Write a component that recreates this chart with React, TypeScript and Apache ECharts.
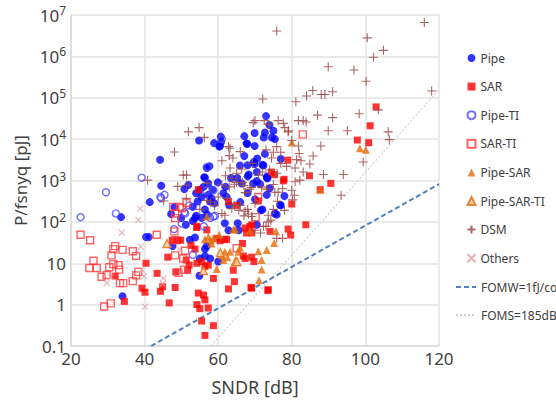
import React, { useEffect, useRef } from "react";
import * as echarts from "echarts";

// ---- data: [SNDR dB, P/fsnyq pJ] ----
const pipeData: [number, number][] = [
  [44.2, 3160], [54.8, 9300], [58.9, 8000], [60.7, 11500], [60.5, 6800], [67.1, 11800], [69.9, 14000], [67.9, 7600], [69.9, 6800], [67.1, 3900],
  [70.6, 3400], [65.9, 2300], [56.9, 2000], [57.6, 2200], [56.2, 1200], [69.9, 2500], [68.3, 1400], [70.5, 1600], [63.5, 1150], [65.2, 1150],
  [73, 36000], [73.9, 22000], [75, 16000], [72.7, 14500], [72.4, 11000], [74.6, 11000], [72.7, 4400], [77, 3300], [72, 2400], [73.2, 1240],
  [75.4, 10000], [60.8, 8700], [60.3, 6600], [67.7, 7900], [69.7, 2800], [72.3, 2300], [68, 2340], [73.4, 1170], [56.4, 1170], [68, 1260],
  [70.5, 970], [69.5, 850], [71.4, 810], [66.4, 850], [59.9, 900], [57.3, 850], [61.4, 490], [62.3, 400], [57.3, 450], [58.2, 370],
  [57.8, 310], [71.6, 190], [77, 250], [75.4, 160], [56.4, 200], [57, 150], [55.5, 125], [44.5, 750], [41.4, 300], [33.6, 130],
  [48.1, 230], [50.8, 620], [51.9, 780], [54, 490], [54.4, 310], [53.1, 230], [54, 140], [51.2, 85], [49.9, 123], [47.2, 155],
  [40.4, 43], [41.1, 43], [52.3, 37], [34, 1.6], [47.6, 26], [54.9, 5], [56.4, 22], [57.8, 13], [53.7, 123], [53.1, 105],
  [61.8, 93], [62.8, 63], [65.3, 93], [65.6, 63], [70.5, 85], [56.9, 26], [56.4, 15], [55, 13], [60, 11], [53.7, 42],
  [75.9, 150], [76.8, 260], [72, 200], [73.2, 450], [73.3, 1130], [55, 600], [56, 700], [55.5, 400], [58.5, 600], [59, 280],
  [62, 700], [63, 250], [66, 300], [68, 500], [70, 350], [74, 650], [78, 420],
];

const sarData: [number, number][] = [
  [102.9, 60000], [101.3, 21000], [97.8, 9500], [100.9, 8200], [78.9, 3100], [84.8, 1300], [74.5, 1600], [75.3, 1380], [77.9, 1070], [90.6, 850],
  [87.7, 600], [80, 270], [77.7, 980], [70.9, 320], [83.8, 85], [79, 67], [79.7, 48], [74.1, 59], [69.1, 85], [67.3, 71],
  [67.7, 54], [69.1, 54], [68.6, 77], [66.6, 30], [66.8, 15], [69.1, 14], [69.7, 11], [69.1, 2.5], [73.6, 2.3], [54.2, 73],
  [56.9, 64], [59.6, 40], [61.8, 37], [53.7, 22], [55.5, 11], [54.2, 10], [57.3, 9], [58.7, 4.3], [64.1, 6.8], [64.4, 3.6],
  [62.8, 2.4], [68.9, 2.6], [73.5, 2.2], [54.6, 1.9], [56, 1.7], [56.4, 1.3], [54.2, 1], [55, 0.8], [57.3, 0.83], [55.5, 0.4],
  [58.7, 0.31], [56.4, 0.18], [40.4, 10], [46.3, 14], [43.4, 5.7], [32, 4.9], [39.3, 2.5], [40.1, 2], [34.5, 1.2], [44.9, 2.7],
  [44.3, 2.1], [48.3, 2.6], [46.7, 1.1], [48.5, 6.2], [51.7, 6.8], [51.3, 12], [52.1, 9], [52.6, 27], [49, 36], [47.5, 36],
  [49.8, 36], [54.2, 78], [56.4, 8.4], [60.5, 35], [65, 250], [62.3, 38], [67.3, 13], [62.8, 310], [54.6, 600],
];

const pipeTiData: [number, number][] = [
  [22.6, 130], [29.5, 520], [32.2, 160], [39.2, 1170], [44.5, 370], [45.4, 450], [44.3, 400], [41, 43], [48, 67], [51, 160],
  [50.1, 91], [53.1, 16], [56.7, 580], [58.7, 580], [56.1, 78], [52.1, 250], [50.8, 170], [61, 10000], [56.9, 2100], [59.1, 140],
  [57.8, 125], [58.7, 134],
];

const sarTiData: [number, number][] = [
  [22.6, 49], [25.2, 36], [26.1, 11.5], [25, 7.7], [27, 7.7], [28.3, 4.7], [29.7, 5.2], [31, 15.5], [31.5, 9.5], [32.9, 9],
  [33.1, 7], [30.4, 8], [33.3, 3.3], [34.2, 3.3], [31.5, 22], [34, 21], [36.8, 19.5], [37.7, 15], [38.3, 6.2], [37.7, 5.1],
  [36.8, 3.7], [43.3, 49], [29, 0.9], [30.8, 1.07], [48.3, 36], [48.3, 15.5], [51, 20], [50.5, 13], [50.7, 7], [49.2, 5.9],
  [47.8, 230], [49.6, 230], [48.3, 160], [48.3, 123], [51.4, 285], [32, 26], [48.1, 59], [50.2, 215], [83, 13000], [70.9, 400],
  [70.2, 130], [65, 23],
];

const pipeSarData: [number, number][] = [
  [75.7, 59], [75.2, 31], [73.2, 21], [70.9, 19.5], [71.8, 12], [71.8, 7.1], [71.1, 3.9], [87.7, 600], [80, 8300], [98.5, 6000],
  [100.1, 5500], [64.6, 66], [63.2, 19], [61, 15.5], [61.8, 19], [57.3, 44], [58, 36], [58.7, 40], [58.2, 30], [59.6, 7.3],
  [68.6, 59], [56.4, 38], [60.3, 49], [61.4, 12], [65.5, 19], [65.9, 24], [64.1, 65], [56.9, 134], [62.5, 14],
];

const pipeSarTiData: [number, number][] = [
  [46.1, 30], [60.6, 18], [64.7, 11], [65.1, 11], [56, 6.6],
];

const dsmData: [number, number][] = [
  [75.9, 4.1e6], [116, 6.6e6], [100.5, 2.8e6], [104.9, 1.4e6], [102.2, 9.5e5], [89.9, 5.6e5], [96.9, 4.7e5], [100.2, 2.5e5], [85.7, 1.5e5], [84, 1.1e5],
  [88, 1.2e5], [89, 1.2e5], [91.1, 1.4e5], [118, 1.45e5], [72.1, 9.3e4], [81.1, 8e4], [87, 3.8e4], [91.1, 3.3e4], [98.3, 4.1e4], [103.5, 5.1e4],
  [81.8, 2.8e4], [83.1, 2.8e4], [83.9, 2.6e4], [89.9, 1.6e4], [95.1, 1.6e4], [106.2, 1.5e4], [106.5, 9700], [76.3, 2.8e4], [77.7, 2.4e4], [79.1, 1.6e4],
  [80, 9300], [87.9, 6800], [85.8, 3900], [81.8, 6800], [82, 4500], [84.9, 2500], [99.4, 2800], [94, 1400], [88.6, 1400], [83.1, 1600],
  [78.6, 2200], [93.4, 440], [80.9, 930], [80.2, 340], [77.5, 630], [75, 800], [76.1, 315], [75, 200], [74.3, 110], [73.6, 100],
  [77.5, 40], [73, 78], [71.5, 54], [54.8, 1.9e4], [51.9, 1.5e4], [56.2, 1.1e4], [48.1, 4900], [50.5, 1350], [51.4, 1350], [63.2, 6000],
  [63, 4000], [61, 3000], [63.2, 2000], [70, 2.8e4], [69.5, 2.5e4], [72.5, 2.8e4], [73.8, 2.3e4], [78.1, 1.9e4], [79, 1.5e4], [81.3, 3200],
  [82.5, 3000], [80.9, 2000], [75.9, 6600], [75, 4800], [77, 4800], [82.2, 1020], [80, 580], [80.7, 440], [76.3, 520], [62.8, 6600],
  [66.4, 1900], [69.3, 2600], [70.9, 1350], [63.7, 1130], [64.4, 810], [66.6, 900], [67.3, 510], [68.6, 620], [71.8, 690], [73.2, 620],
  [75.4, 520], [62.3, 370], [64.4, 250], [67.3, 180], [68.2, 155], [69.1, 135], [78, 190], [73.6, 145], [63.7, 210], [65.6, 190],
  [61, 160], [61.8, 145], [40.8, 1020], [49, 720], [51.3, 370], [45.2, 320], [72.3, 78], [70, 63], [75.9, 40], [51.4, 770],
  [56.9, 850], [61, 800], [63, 700], [65, 900], [67, 750], [69, 680], [66, 250], [68, 200], [70, 280], [67, 140],
  [60, 400], [58, 300], [59, 250], [74, 1800], [76, 1500], [74.5, 3500], [77, 2600], [73, 5500], [66, 5000], [64, 3500],
  [65, 1500], [72, 1600], [55, 200], [57, 330], [62, 1300],
];

const othersData: [number, number][] = [
  [38.8, 210], [38.3, 112], [33.8, 55], [39, 25], [39.2, 7], [39.8, 4.9], [45.1, 4.3], [44.9, 3.2], [40.1, 0.89], [30.8, 4.6],
  [29.7, 3.3], [49.4, 22],
];

// reference lines (end points)
const fomwLine: [number, number][] = [[41.76, 0.1], [120, 817]];
const fomsLine: [number, number][] = [[58.01, 0.1], [120, 158000]];

const xTicks = [20, 40, 60, 80, 100, 120];

const scatterNames = ["Pipe", "SAR", "Pipe-TI", "SAR-TI", "Pipe-SAR", "Pipe-SAR-TI", "DSM", "Others"];
const lineNames = ["FOMW=1fJ/conv-step", "FOMS=185dB"];

const FONT = "'Noto Sans', 'Open Sans', sans-serif";
const PLUS = "path://M5,0 L5,10 M0,5 L10,5";
const CROSS = "path://M0,0 L10,10 M10,0 L0,10";

export default function App() {
  const ref = useRef<HTMLDivElement>(null);
  useEffect(() => {
    if (!ref.current) return;
    const chart = echarts.init(ref.current, undefined, { renderer: "svg" });
    const legendText = { fontSize: 12, color: "#404040", fontFamily: FONT, lineHeight: 16 };
    const option: any = {
      animation: false,
      backgroundColor: "#ffffff",
      textStyle: { fontFamily: FONT },
      grid: { left: 71, right: 117, top: 15, bottom: 59 },
      xAxis: {
        type: "value",
        min: xTicks[0],
        max: xTicks[xTicks.length - 1],
        interval: 20,
        name: "SNDR [dB]",
        nameLocation: "middle",
        nameGap: 32,
        nameTextStyle: { fontSize: 18, color: "#404040", fontFamily: FONT },
        axisLine: { show: true, lineStyle: { color: "#d9d9d9", width: 1.5 } },
        axisTick: { show: false },
        axisLabel: { fontSize: 17, color: "#404040", margin: 4, fontFamily: FONT },
        splitLine: { show: true, lineStyle: { color: "#e3e3e3", width: 1.5 } },
      },
      yAxis: {
        type: "log",
        logBase: 10,
        min: 0.1,
        max: 1e7,
        name: "P/fsnyq [pJ]",
        nameLocation: "middle",
        nameGap: 41,
        nameRotate: 90,
        nameTextStyle: { fontSize: 17, color: "#404040", fontFamily: FONT },
        axisLine: { show: true, lineStyle: { color: "#d9d9d9", width: 1.5 } },
        axisTick: { show: false },
        axisLabel: {
          fontSize: 17,
          color: "#404040",
          margin: 5,
          fontFamily: FONT,
          formatter: (v: number) => {
            const e = Math.round(Math.log10(v));
            if (e === -1) return "0.1";
            if (e === 0) return "1";
            if (e === 1) return "10";
            return "10{sup|" + e + "}";
          },
          rich: {
            sup: { fontSize: 12, color: "#404040", fontFamily: FONT, verticalAlign: "top", padding: [0, 0, 9, 0] },
          },
        },
        splitLine: { show: true, lineStyle: { color: "#e3e3e3", width: 1.5 } },
      },
      legend: [
        {
          orient: "vertical",
          left: 460,
          top: 45,
          itemWidth: 8,
          itemHeight: 8,
          itemGap: 12.6,
          textStyle: legendText,
          data: scatterNames,
        },
        {
          orient: "vertical",
          left: 450,
          top: 274,
          itemWidth: 20,
          itemHeight: 8,
          itemGap: 12,
          textStyle: legendText,
          data: lineNames.map((n) => ({ name: n, itemStyle: { opacity: 0, color: "transparent", borderColor: "transparent" } })),
        },
      ],
      series: [
        {
          name: "FOMS=185dB", type: "line", data: fomsLine, symbol: "none", z: 1,
          lineStyle: { color: "#cfcfcf", width: 1.2, type: [2, 2] }, itemStyle: { color: "#cfcfcf" },
        },
        {
          name: "FOMW=1fJ/conv-step", type: "line", data: fomwLine, symbol: "none", z: 1,
          lineStyle: { color: "#4f81bd", width: 2, type: [5, 3] }, itemStyle: { color: "#4f81bd" },
        },
        {
          name: "Pipe", type: "scatter", data: pipeData, symbol: "circle", symbolSize: 8, z: 2,
          itemStyle: { color: "#0000ff" },
        },
        {
          name: "SAR", type: "scatter", data: sarData, symbol: "rect", symbolSize: 7, z: 2,
          itemStyle: { color: "#ff0000" },
        },
        {
          name: "Pipe-TI", type: "scatter", data: pipeTiData, symbol: "circle", symbolSize: 7, z: 2,
          itemStyle: { color: "transparent", borderColor: "#4a4aff", borderWidth: 1.4 },
        },
        {
          name: "SAR-TI", type: "scatter", data: sarTiData, symbol: "rect", symbolSize: 7, z: 2,
          itemStyle: { color: "transparent", borderColor: "#ff3b3b", borderWidth: 1.4 },
        },
        {
          name: "Pipe-SAR", type: "scatter", data: pipeSarData, symbol: "triangle", symbolSize: 8, z: 2,
          itemStyle: { color: "#e46c0a" },
        },
        {
          name: "Pipe-SAR-TI", type: "scatter", data: pipeSarTiData, symbol: "triangle", symbolSize: 8, z: 2,
          itemStyle: { color: "#f9c89c", borderColor: "#e46c0a", borderWidth: 1.3 },
        },
        {
          name: "DSM", type: "scatter", data: dsmData, symbol: PLUS, symbolSize: 9, z: 2,
          itemStyle: { color: "none", borderColor: "#9c4a4a", borderWidth: 1.1, opacity: 0.85 },
        },
        {
          name: "Others", type: "scatter", data: othersData, symbol: CROSS, symbolSize: 6, z: 2,
          itemStyle: { color: "none", borderColor: "#dca0a0", borderWidth: 1.1 },
        },
      ],
    };
    chart.setOption(option);
    return () => chart.dispose();
  }, []);
  return (
    <div
      ref={ref}
      style={{ position: "fixed", left: 0, top: 0, width: 556, height: 405, background: "#fff" }}
    />
  );
}
